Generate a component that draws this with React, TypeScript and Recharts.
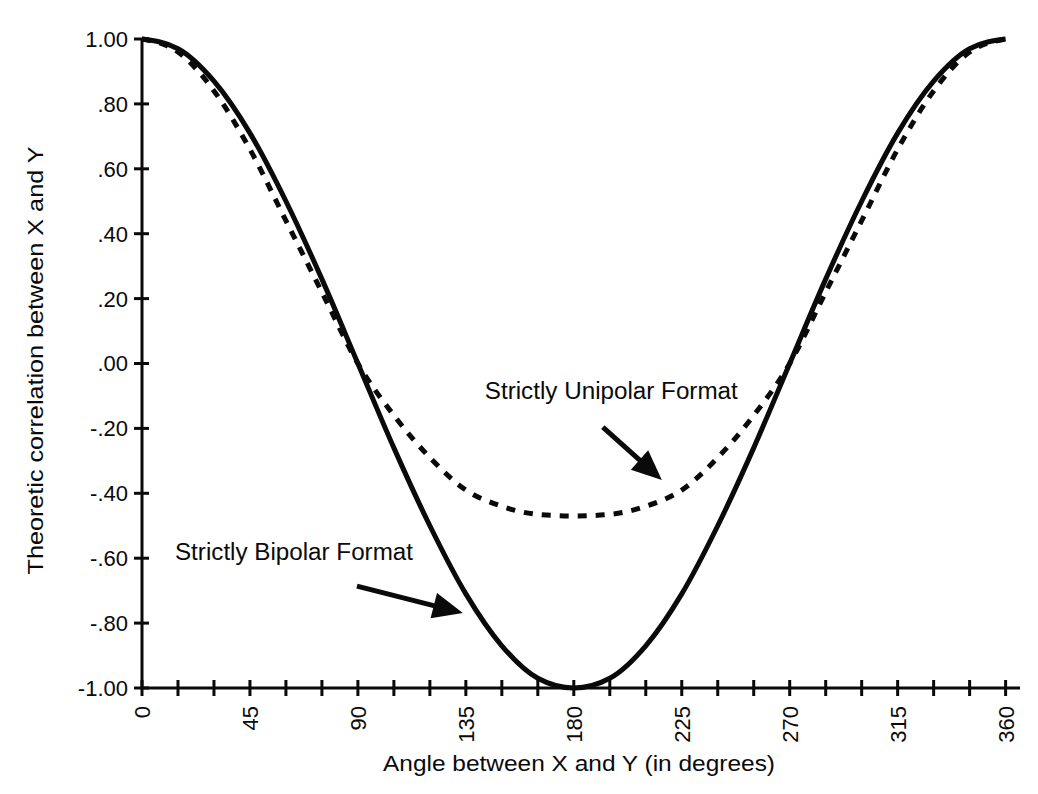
import { LineChart, Line, XAxis, YAxis, ReferenceLine, ReferenceDot, Label } from "recharts"

// angle between X and Y, degrees
const angles = [0, 15, 30, 45, 60, 75, 90, 105, 120, 135, 150, 165, 180, 195, 210, 225, 240, 255, 270, 285, 300, 315, 330, 345, 360]

// Strictly Bipolar Format (solid)
const bipolar = [1.0, 0.97, 0.87, 0.71, 0.5, 0.26, 0.0, -0.26, -0.5, -0.71, -0.87, -0.97, -1.0, -0.97, -0.87, -0.71, -0.5, -0.26, 0.0, 0.26, 0.5, 0.71, 0.87, 0.97, 1.0]

// Strictly Unipolar Format (dashed)
const unipolar = [1.0, 0.96, 0.84, 0.66, 0.44, 0.22, 0.0, -0.16, -0.29, -0.39, -0.44, -0.465, -0.47, -0.465, -0.44, -0.39, -0.29, -0.16, 0.0, 0.22, 0.44, 0.66, 0.84, 0.96, 1.0]

const xTicks = [0, 15, 30, 45, 60, 75, 90, 105, 120, 135, 150, 165, 180, 195, 210, 225, 240, 255, 270, 285, 300, 315, 330, 345, 360]
const xLabelTicks = [0, 45, 90, 135, 180, 225, 270, 315, 360]
const yTicks = [-1, -0.8, -0.6, -0.4, -0.2, 0, 0.2, 0.4, 0.6, 0.8, 1]

const data = angles.map((angle, i) => ({ angle, bipolar: bipolar[i], unipolar: unipolar[i] }))

const FONT = "'Liberation Sans', Arial, Helvetica, sans-serif"
const INK = "#0a0a0a"

function fmtY(v: number) {
    const s = Math.abs(v).toFixed(2)
    const t = s.startsWith("0") ? s.slice(1) : s
    return (v < 0 ? "-" : "") + t
}

function XTick({ x, y, payload }: any) {
    const show = xLabelTicks.includes(payload.value)
    return (
        <g>
            <line x1={x} x2={x} y1={y - 8} y2={y + 8} stroke={INK} strokeWidth={3} />
            {show && (
                <text
                    transform={`translate(${x},${y + 18}) rotate(-90)`}
                    textAnchor="end"
                    dy="0.36em"
                    fontSize={22}
                    fontFamily={FONT}
                    fill={INK}
                >
                    {payload.value}
                </text>
            )}
        </g>
    )
}

function YTick({ x, y, payload }: any) {
    return (
        <g>
            <line x1={x - 8} x2={x + 7} y1={y} y2={y} stroke={INK} strokeWidth={3} />
            <text x={x - 14} y={y} dy="0.36em" textAnchor="end" fontSize={22} fontFamily={FONT} fill={INK}>
                {fmtY(payload.value)}
            </text>
        </g>
    )
}

function Arrow(props: any) {
    const { x1, y1, x2, y2 } = props
    const dx = x2 - x1
    const dy = y2 - y1
    const len = Math.sqrt(dx * dx + dy * dy)
    const ux = dx / len
    const uy = dy / len
    const head = 30
    const half = 13
    const bx = x2 - ux * head
    const by = y2 - uy * head
    return (
        <g>
            <line x1={x1} y1={y1} x2={bx + ux * 4} y2={by + uy * 4} stroke={INK} strokeWidth={5} />
            <polygon
                points={`${x2},${y2} ${bx - uy * half},${by + ux * half} ${bx + uy * half},${by - ux * half}`}
                fill={INK}
            />
        </g>
    )
}

function note(text: string, length: number) {
    return (p: any) => (
        <text
            x={p.viewBox.x}
            y={p.viewBox.y}
            fontSize={23}
            fontFamily={FONT}
            fill={INK}
            textLength={length}
            lengthAdjust="spacingAndGlyphs"
        >
            {text}
        </text>
    )
}

export default function App() {
    return (
        <div style={{ width: 1022, height: 776 }}>
            <LineChart width={1022} height={776} data={data} margin={{ top: 31, right: 10, bottom: 0, left: 0 }}>
                <XAxis
                    dataKey="angle"
                    type="number"
                    domain={[0, 366]}
                    ticks={xTicks}
                    interval={0}
                    height={96}
                    tickSize={0}
                    tickMargin={0}
                    tickLine={false}
                    axisLine={{ stroke: INK, strokeWidth: 3 }}
                    tick={<XTick />}
                    allowDataOverflow
                >
                    <Label
                        content={(p: any) => (
                            <text
                                x={p.viewBox.x + p.viewBox.width / 2 - 2}
                                y={p.viewBox.y + 83}
                                textAnchor="middle"
                                fontSize={22}
                                fontFamily={FONT}
                                fill={INK}
                                textLength={392}
                                lengthAdjust="spacingAndGlyphs"
                            >
                                Angle between X and Y (in degrees)
                            </text>
                        )}
                    />
                </XAxis>
                <YAxis
                    type="number"
                    domain={[-1, 1]}
                    ticks={yTicks}
                    interval={0}
                    width={134}
                    tickSize={0}
                    tickMargin={0}
                    tickLine={false}
                    axisLine={{ stroke: INK, strokeWidth: 3 }}
                    tick={<YTick />}
                >
                    <Label
                        content={(p: any) => (
                            <text
                                transform={`translate(35,${p.viewBox.y + p.viewBox.height / 2 - 3}) rotate(-90)`}
                                textAnchor="middle"
                                fontSize={22}
                                fontFamily={FONT}
                                fill={INK}
                                textLength={428}
                                lengthAdjust="spacingAndGlyphs"
                            >
                                Theoretic correlation between X and Y
                            </text>
                        )}
                    />
                </YAxis>
                <Line
                    dataKey="unipolar"
                    type="monotone"
                    stroke={INK}
                    strokeWidth={5}
                    strokeDasharray="9 9"
                    dot={false}
                    isAnimationActive={false}
                />
                <Line
                    dataKey="bipolar"
                    type="monotone"
                    stroke={INK}
                    strokeWidth={5}
                    dot={false}
                    isAnimationActive={false}
                />
                <ReferenceDot x={142.9} y={-0.109} r={0} stroke="none" label={{ content: note("Strictly Unipolar Format", 253) }} />
                <ReferenceDot x={13.75} y={-0.606} r={0} stroke="none" label={{ content: note("Strictly Bipolar Format", 238) }} />
                <ReferenceLine
                    segment={[
                        { x: 192.1, y: -0.196 },
                        { x: 216.7, y: -0.359 },
                    ]}
                    shape={Arrow}
                />
                <ReferenceLine
                    segment={[
                        { x: 89.6, y: -0.686 },
                        { x: 133.75, y: -0.769 },
                    ]}
                    shape={Arrow}
                />
            </LineChart>
        </div>
    )
}
